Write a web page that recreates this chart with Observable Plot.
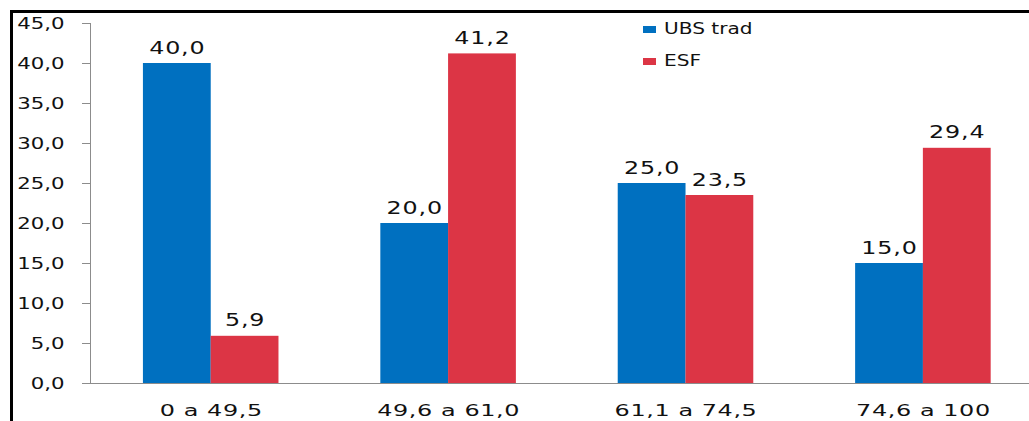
<!DOCTYPE html>
<html>
<head>
<meta charset="utf-8">
<script src="https://cdn.jsdelivr.net/npm/d3@7"></script>
<script src="https://cdn.jsdelivr.net/npm/@observablehq/plot@0.6"></script>
<style>
  html, body { margin: 0; padding: 0; background: #fff; }
  body { width: 1029px; height: 421px; position: relative; overflow: hidden; font-family: "DejaVu Sans", sans-serif; }
  #wrap { position: absolute; left: 10px; top: 10px; width: 1019px; height: 411px; border-left: 3px solid #000; border-top: 3px solid #000; }
  #chart svg { display: block; overflow: visible; }
  #chart svg text { fill: #111; }
  #chart svg g[aria-label="x-axis tick label"] { font-size: 16.5px; letter-spacing: 0.4px; }
  #chart svg g[aria-label="y-axis tick label"] { font-size: 16px; }
  #chart svg g[aria-label="text"] { letter-spacing: 0.6px; }
  #legend { position: absolute; left: 643px; top: 21px; font-size: 15px; color: #111; }
  #legend .row { display: flex; align-items: center; height: 16px; margin-bottom: 16px; white-space: nowrap; }
  #legend .sw { width: 13px; height: 7px; margin-right: 8px; }
  #legend .lb { display: inline-block; transform: scaleX(1.34); transform-origin: left center; }
</style>
</head>
<body>
<div id="wrap"><div id="chart"></div></div>
<div id="legend"></div>
<script>
// ---- data ----
const categories = ["0 a 49,5", "49,6 a 61,0", "61,1 a 74,5", "74,6 a 100"];
const seriesNames = ["UBS trad", "ESF"];
const ubsTrad = [40.0, 20.0, 25.0, 15.0];
const esf = [5.9, 41.2, 23.5, 29.4];
const yTicks = [0, 5, 10, 15, 20, 25, 30, 35, 40, 45];
const colors = ["#0070C0", "#DC3545"];

const fmt = d => d.toFixed(1).replace(".", ",");
const rows = categories.map((c, i) => ({category: c, ubs: ubsTrad[i], esf: esf[i]}));

const half = 67.75;

const svg = Plot.plot({
  width: 1016,
  height: 408,
  marginLeft: 77,
  marginRight: 0,
  marginTop: 10,
  marginBottom: 38,
  style: {fontFamily: "DejaVu Sans", fontSize: "16px", color: "#8c8c8c", background: "transparent", overflow: "visible"},
  x: {domain: categories, range: [79, 1028.6], paddingInner: 0.429, paddingOuter: 0.2145, round: false, tickSize: 0, tickPadding: 21, label: null},
  y: {domain: [0, 45], ticks: yTicks, tickFormat: fmt, tickSize: 8, tickPadding: 18, line: true, label: null},
  marks: [
    Plot.barY(rows, {x: "category", y: "ubs", fill: colors[0], insetRight: half}),
    Plot.barY(rows, {x: "category", y: "esf", fill: colors[1], insetLeft: half}),
    Plot.ruleY([0]),
    Plot.text(rows, {x: "category", y: "ubs", text: d => fmt(d.ubs), dx: -half / 2, lineAnchor: "bottom", dy: -10, fontSize: 17}),
    Plot.text(rows, {x: "category", y: "esf", text: d => fmt(d.esf), dx: half / 2, lineAnchor: "bottom", dy: -10, fontSize: 17})
  ]
});
document.getElementById("chart").appendChild(svg);

// horizontally stretch text glyphs around their anchors (reference text is wide)
svg.querySelectorAll("text").forEach(t => {
  const g = t.closest("g[aria-label]");
  const lab = g ? g.getAttribute("aria-label") : "";
  const s = lab === "y-axis tick label" ? 1.33 : (lab === "x-axis tick label" ? 1.45 : 1.4);
  const tr = t.getAttribute("transform");
  const x = t.getAttribute("x");
  if (tr) {
    t.setAttribute("transform", tr + ` scale(${s},1)`);
  } else if (x != null) {
    t.setAttribute("transform", `translate(${x},0) scale(${s},1) translate(${-x},0)`);
  } else {
    t.setAttribute("transform", `scale(${s},1)`);
  }
});

// legend
const legend = document.getElementById("legend");
seriesNames.forEach((name, i) => {
  const row = document.createElement("div");
  row.className = "row";
  const sw = document.createElement("span");
  sw.className = "sw";
  sw.style.background = colors[i];
  const lb = document.createElement("span");
  lb.className = "lb";
  lb.textContent = name;
  row.appendChild(sw);
  row.appendChild(lb);
  legend.appendChild(row);
});
</script>
</body>
</html>
